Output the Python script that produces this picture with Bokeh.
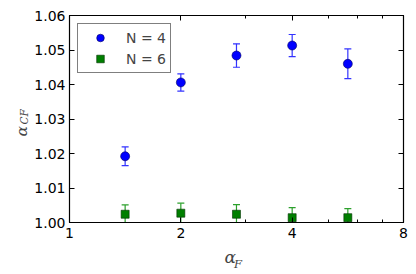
from bokeh.plotting import figure
from bokeh.models import (ColumnDataSource, Whisker, TeeHead, FixedTicker, LinearAxis,
                          Label, Legend, LegendItem, PrintfTickFormatter, Range1d)
from bokeh.embed import file_html
from bokeh.resources import INLINE

# ---- data ----
alpha_f = [1.414, 2.0, 2.828, 4.0, 5.657]
n4_val = [1.0192, 1.0406, 1.0484, 1.0513, 1.0460]
n4_err = [0.0027, 0.0025, 0.0034, 0.0032, 0.0043]
n6_val = [1.0024, 1.0027, 1.0024, 1.0014, 1.0014]
n6_err = [0.0027, 0.0029, 0.0028, 0.0029, 0.0026]
x_ticks = [1, 2, 4, 8]
x_minor = [3, 5, 6, 7]
y_ticks = [1.00, 1.01, 1.02, 1.03, 1.04, 1.05, 1.06]
labels = ["N = 4", "N = 6"]

src4 = ColumnDataSource(dict(x=alpha_f, y=n4_val,
                             lo=[v - e for v, e in zip(n4_val, n4_err)],
                             hi=[v + e for v, e in zip(n4_val, n4_err)]))
src6 = ColumnDataSource(dict(x=alpha_f, y=n6_val,
                             lo=[v - e for v, e in zip(n6_val, n6_err)],
                             hi=[v + e for v, e in zip(n6_val, n6_err)]))

p = figure(x_axis_type="log", x_range=Range1d(1, 8), y_range=Range1d(1.0, 1.06),
           frame_width=334, frame_height=207,
           min_border_left=69, min_border_right=13, min_border_top=15, min_border_bottom=52,
           output_backend="svg", toolbar_location=None)
p.grid.visible = False
p.outline_line_color = "black"
p.outline_line_width = 1.2

FONT = "DejaVu Sans"

bottom = p.xaxis[0]
left = p.yaxis[0]
bottom.ticker = FixedTicker(ticks=x_ticks, minor_ticks=x_minor)
bottom.formatter = PrintfTickFormatter(format="%d")
left.ticker = FixedTicker(ticks=y_ticks, minor_ticks=[])
left.formatter = PrintfTickFormatter(format="%.2f")

top = LinearAxis(ticker=FixedTicker(ticks=x_ticks, minor_ticks=x_minor))
right = LinearAxis(ticker=FixedTicker(ticks=y_ticks, minor_ticks=[]))

for ax in [bottom, left, top, right]:
    ax.axis_line_color = "black"
    ax.major_tick_in = 5
    ax.major_tick_out = 0
    ax.minor_tick_in = 3
    ax.minor_tick_out = 0
    ax.major_tick_line_color = "black"
    ax.minor_tick_line_color = "black"
    ax.major_label_text_font = FONT
    ax.major_label_text_font_size = "14px"
    ax.major_label_text_color = "black"
    ax.major_label_standoff = 5
left.major_label_standoff = 4
for ax in [top, right]:
    ax.major_label_overrides = {t: "" for t in (x_ticks if ax is top else y_ticks)}
    ax.major_label_text_font_size = "1px"
    ax.major_label_standoff = 0
p.add_layout(top, "above")
p.add_layout(right, "right")

# error bars
w4 = Whisker(source=src4, base="x", lower="lo", upper="hi", line_color="#3333ff",
             line_width=1.2, level="underlay",
             upper_head=TeeHead(size=7, line_color="#3333ff", line_width=1.2),
             lower_head=TeeHead(size=7, line_color="#3333ff", line_width=1.2))
w6 = Whisker(source=src6, base="x", lower="lo", upper="hi", line_color="#2ca02c",
             line_width=1.2, level="underlay",
             upper_head=TeeHead(size=7, line_color="#2ca02c", line_width=1.2),
             lower_head=TeeHead(size=7, line_color="#2ca02c", line_width=1.2))
p.add_layout(w4)
p.add_layout(w6)

r4 = p.scatter("x", "y", source=src4, marker="circle", size=9, fill_color="#0000ff",
               line_color="#000060", line_width=0.6)
r6 = p.scatter("x", "y", source=src6, marker="square", size=8, fill_color="#007f00",
               line_color="#003000", line_width=0.6)

legend = Legend(items=[LegendItem(label=labels[0], renderers=[r4]),
                       LegendItem(label=labels[1], renderers=[r6])],
                location="top_left")
legend.border_line_color = "black"
legend.border_line_width = 1.2
legend.label_text_font = FONT
legend.label_text_font_size = "14px"
legend.margin = 8
legend.padding = 4
legend.spacing = 2
legend.glyph_width = 36
legend.glyph_height = 19
legend.label_height = 19
legend.label_standoff = 8
p.add_layout(legend)

# axis labels (alpha with subscripts) placed in side panels so they are not clipped
SERIF = "DejaVu Serif"
def lab(text, x, y, size, angle=0.0):
    return Label(x=x, y=y, x_units="screen", y_units="screen", text=text, angle=angle,
                 text_font=SERIF, text_font_style="italic", text_font_size=size,
                 text_baseline="alphabetic", text_align="left")

p.add_layout(lab("α", 155, 3.5, "17px"), "below")
p.add_layout(lab("F", -169.5, -41, "11.5px"), "right")
p.add_layout(lab("α", 8.8, 86, "15.5px", 1.5708), "left")
p.add_layout(lab("CF", 22.5, 98, "10.5px", 1.5708), "left")

open("out.html", "w").write(file_html(p, INLINE))
